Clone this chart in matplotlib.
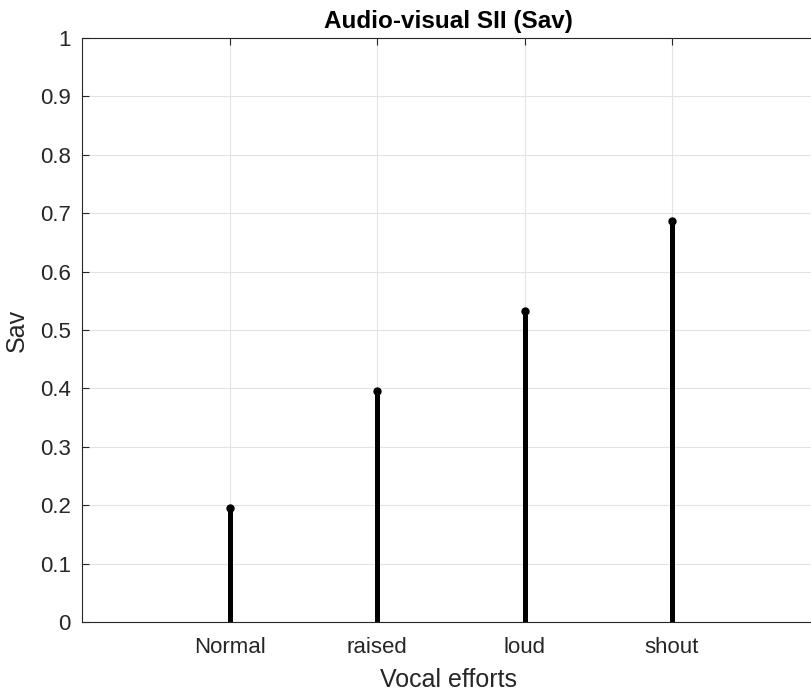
import matplotlib
matplotlib.use("Agg")
import matplotlib.pyplot as plt

# vocal effort levels and their audio-visual SII
efforts = ["Normal", "raised", "loud", "shout"]
positions = [1, 2, 3, 4]
sav = [0.195, 0.396, 0.532, 0.687]

plt.rcParams["font.family"] = ["Liberation Sans", "DejaVu Sans"]

fig = plt.figure(figsize=(8.11, 6.93), dpi=100)
# axes run a little past the right edge, as in the original export
ax = fig.add_axes([82 / 811, 71 / 693, 737.5 / 811, 584 / 693])

markers, stems, base = ax.stem(positions, sav, linefmt="k-", markerfmt="ko", basefmt=" ")
stems.set_linewidth(3.6)
markers.set_markersize(5)

ax.set_xlim(0, 5)
ax.set_ylim(0, 1)
ax.set_xticks(positions)
ax.set_xticklabels(efforts)
ax.set_yticks([i / 10 for i in range(11)])
ax.set_yticklabels(["0", "0.1", "0.2", "0.3", "0.4", "0.5", "0.6", "0.7", "0.8", "0.9", "1"])

ax.grid(True, color="#e3e3e3", linewidth=0.8)
ax.set_axisbelow(True)
ax.tick_params(direction="in", length=5, top=True, right=True, labelsize=16,
               colors="#262626")
ax.tick_params(axis="x", pad=11)
ax.tick_params(axis="y", pad=8)
for s in ax.spines.values():
    s.set_color("#262626")
    s.set_linewidth(0.8)

# title and xlabel sit a bit left of the clipped axes centre
mid = (448 - 82) / 737.5
ax.set_title("Audio-visual SII (Sav)", fontsize=17.5, fontweight="bold", pad=7, x=mid)
ax.set_xlabel("Vocal efforts", fontsize=18, color="#262626", labelpad=7)
ax.xaxis.label.set_x(mid)
ax.set_ylabel("Sav", fontsize=18, color="#262626", labelpad=8)

fig.savefig("out.png", dpi=100)
